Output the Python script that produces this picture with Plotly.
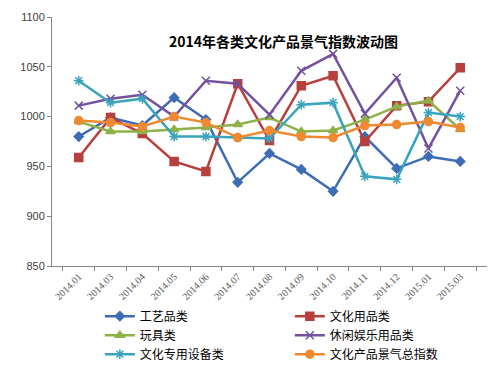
import plotly.graph_objects as go

categories = ["2014.01", "2014.03", "2014.04", "2014.05", "2014.06", "2014.07", "2014.08",
              "2014.09", "2014.10", "2014.11", "2014.12", "2015.01", "2015.03"]

crafts = [980, 999, 991, 1019, 997, 934, 963, 947, 925, 980, 948, 960, 955]
stationery = [959, 999, 983, 955, 945, 1033, 976, 1031, 1041, 975, 1011, 1015, 1049]
toys = [995, 985, 985, 987, 989, 992, 999, 985, 986, 997, 1010, 1016, 987]
leisure = [1011, 1018, 1022, 1000, 1036, 1033, 1002, 1046, 1063, 1003, 1039, 968, 1026]
equipment = [1036, 1014, 1018, 980, 980, 979, 978, 1012, 1014, 940, 937, 1004, 1000]
overall = [996, 994, 990, 1000, 994, 979, 986, 980, 979, 991, 992, 995, 989]

series_names = ["工艺品类", "文化用品类", "玩具类", "休闲娱乐用品类", "文化专用设备类", "文化产品景气总指数"]
y_ticks = [850, 900, 950, 1000, 1050, 1100]

series = [crafts, stationery, toys, leisure, equipment, overall]
colors = ["#3E6DB5", "#B8403C", "#8DB24A", "#7352A0", "#3AA3BE", "#EF8A30"]
symbols = ["diamond", "square", "triangle-up", "x-thin", "asterisk", "circle"]
sizes = [7, 8, 8, 8, 8, 8]

fig = go.Figure()
for name, vals, c, s, sz in zip(series_names, series, colors, symbols, sizes):
    fig.add_trace(go.Scatter(
        x=categories, y=vals, name=name, mode="lines+markers",
        line=dict(color=c, width=2.5),
        marker=dict(symbol=s, size=sz, color=c, line=dict(color=c, width=1.5)),
    ))

# page body has an 8px margin: figure is sized/offset so the plot lands where the reference has it
fig.update_layout(
    width=492, height=359,
    margin=dict(l=44, r=13, t=9, b=101, autoexpand=False),
    paper_bgcolor="white", plot_bgcolor="white",
    showlegend=True,
    legend=dict(orientation="h", x=0.11, xanchor="left", yref="container", y=0.182, yanchor="top",
                entrywidth=145, tracegroupgap=0, bgcolor="rgba(0,0,0,0)",
                font=dict(family="Noto Sans CJK SC", size=12, color="#000000")),
    annotations=[dict(text="<b>2014年各类文化产品景气指数波动图</b>", xref="paper", yref="paper",
                      x=(283 - 52) / 435, y=1 - (41 - 17) / 249, xanchor="center", yanchor="middle",
                      showarrow=False, font=dict(family="Noto Sans CJK SC", size=14, color="#000000"))],
)
fig.update_xaxes(
    type="category", tickson="boundaries", ticks="outside", ticklen=4, tickcolor="#868686",
    showline=True, linecolor="#868686", linewidth=1, showgrid=False, tickangle=-45, automargin=False,
    tickfont=dict(family="Liberation Serif", size=10, color="#595959"),
)
fig.update_yaxes(
    range=[850, 1100], tickvals=y_ticks, ticks="outside", ticklen=4, tickcolor="#868686",
    showline=True, linecolor="#868686", linewidth=1, showgrid=False, zeroline=False, automargin=False,
    tickfont=dict(family="Liberation Sans", size=11, color="#404040"),
)

fig.write_html("out.html")
